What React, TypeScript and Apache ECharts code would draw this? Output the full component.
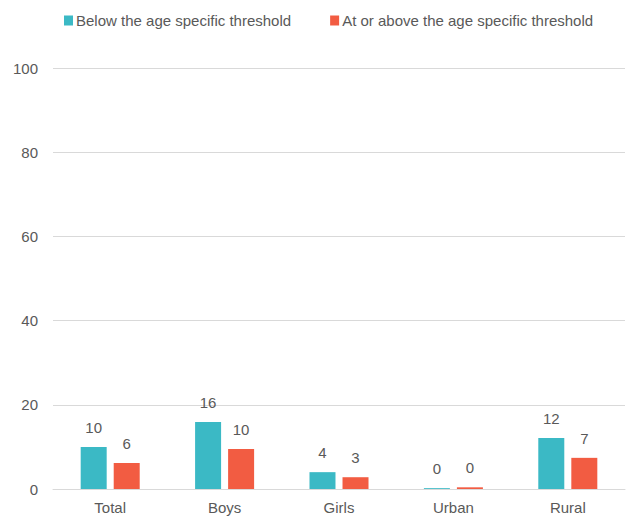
import React, { useEffect, useRef } from "react";
import * as echarts from "echarts";

const categories = ["Total", "Boys", "Girls", "Urban", "Rural"];
const belowThreshold = [10.0, 15.9, 4.0, 0.2, 12.1];
const atOrAboveThreshold = [6.2, 9.5, 2.8, 0.4, 7.4];
const seriesNames = ["Below the age specific threshold", "At or above the age specific threshold"];
const yTicks = { min: 0, max: 100, interval: 20 };

const TEXT = "#595959";
const FONT = "'Liberation Sans', Arial, sans-serif";
const FONT_SIZE = 15;

export default function App() {
  const ref = useRef<HTMLDivElement>(null);

  useEffect(() => {
    if (!ref.current) return;
    const chart = echarts.init(ref.current, undefined, { renderer: "svg" });
    const label = {
      show: true,
      position: "top" as const,
      distance: 12,
      color: TEXT,
      fontSize: FONT_SIZE,
      fontFamily: FONT,
      formatter: (p: any) => String(Math.round(p.value)),
    };
    chart.setOption({
      animation: false,
      textStyle: { fontFamily: FONT },
      legend: {
        top: 8,
        left: 59,
        itemWidth: 9,
        itemHeight: 10,
        itemGap: 39,
        icon: "rect",
        textStyle: { color: TEXT, fontSize: FONT_SIZE, fontFamily: FONT, padding: [0, 0, 0, -2] },
        data: seriesNames,
      },
      grid: { left: 53, right: 2, top: 68, bottom: 27, containLabel: false },
      xAxis: {
        type: "category",
        data: categories,
        axisLine: { show: true, lineStyle: { color: "#d9d9d9", width: 1 } },
        axisTick: { show: false },
        axisLabel: { color: TEXT, fontSize: FONT_SIZE, fontFamily: FONT, margin: 11 },
      },
      yAxis: {
        type: "value",
        min: yTicks.min,
        max: yTicks.max,
        interval: yTicks.interval,
        axisLine: { show: false },
        axisTick: { show: false },
        splitLine: { lineStyle: { color: "#d9d9d9", width: 1 } },
        axisLabel: { color: TEXT, fontSize: FONT_SIZE, fontFamily: FONT, margin: 15 },
      },
      series: [
        {
          name: seriesNames[0],
          type: "bar",
          data: belowThreshold,
          barWidth: 26,
          barGap: "27%",
          itemStyle: { color: "#3bb9c5" },
          label,
        },
        {
          name: seriesNames[1],
          type: "bar",
          data: atOrAboveThreshold,
          barWidth: 26,
          itemStyle: { color: "#f25c42" },
          label,
        },
      ],
    });
    return () => chart.dispose();
  }, []);

  return (
    <div style={{ position: "fixed", left: 0, top: 0, width: 627, height: 516, background: "#fff" }}>
      <div ref={ref} style={{ width: 627, height: 516 }} />
    </div>
  );
}
